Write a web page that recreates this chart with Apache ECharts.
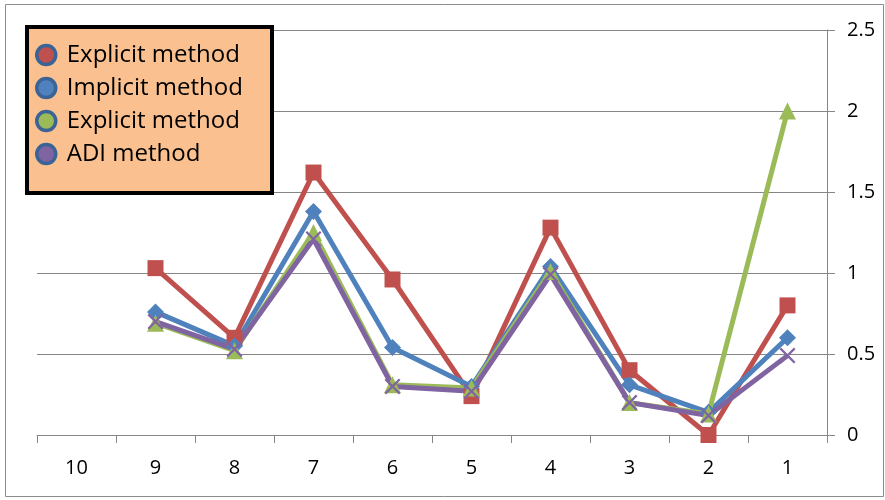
<!DOCTYPE html>
<html><head><meta charset="utf-8">
<script src="https://cdn.jsdelivr.net/npm/echarts@6/dist/echarts.min.js"></script>
<style>html,body{margin:0;padding:0;background:#fff}#c{width:885px;height:500px}</style>
</head><body><div id="c"></div>
<script>
const categories = ['10','9','8','7','6','5','4','3','2','1'];
const explicitA = [null, 1.03, 0.60, 1.62, 0.96, 0.24, 1.28, 0.40, 0.00, 0.80];
const implicit  = [null, 0.76, 0.55, 1.38, 0.54, 0.30, 1.04, 0.31, 0.14, 0.60];
const explicitB = [null, 0.69, 0.52, 1.25, 0.31, 0.29, 1.01, 0.20, 0.13, 2.00];
const adi       = [null, 0.70, 0.53, 1.21, 0.30, 0.27, 0.99, 0.20, 0.12, 0.49];
const seriesNames = ['Explicit method','Implicit method','Explicit method ','ADI method'];
const colors = ['#C0504D','#4F81BD','#9BBB59','#8064A2'];
const xPath = 'path://M0,1L1,0L5,4L9,0L10,1L6,5L10,9L9,10L5,6L1,10L0,9L4,5Z';
const symbols = ['rect','diamond','triangle',xPath];
const symSizes = [16,17,17,16];
const dataSets = [explicitA, implicit, explicitB, adi];
const font = 'Open Sans';

const chart = echarts.init(document.getElementById('c'), null, {renderer:'canvas'});
chart.setOption({
  animation:false,
  textStyle:{fontFamily:font},
  graphic:[
    {type:'rect', z:0, shape:{x:5.5,y:4.5,width:878,height:492}, style:{fill:'none',stroke:'#8c8c8c',lineWidth:1}},
    {type:'rect', z:5, shape:{x:29,y:29,width:245,height:166}, style:{fill:'#7f7f7f'}},
    {type:'rect', z:6, shape:{x:27,y:27,width:245,height:166}, style:{fill:'#FAC090',stroke:'#000',lineWidth:4}}
  ],
  grid:{left:37,right:58,top:30,bottom:65},
  legend:{
    z:10, left:35, top:43, padding:0, orient:'vertical', itemGap:9, itemWidth:19, itemHeight:19,
    icon:'circle',
    textStyle:{fontSize:24,color:'#000',fontFamily:font, padding:[0,0,0,6]},
    data: seriesNames.map((n,i)=>({name:n, itemStyle:{color:colors[i], borderColor:'#3B6396', borderWidth:3.5}}))
  },
  xAxis:{
    type:'category', data:categories, boundaryGap:true,
    axisLine:{lineStyle:{color:'#868686',width:1}},
    axisTick:{show:true, interval:0, length:8, lineStyle:{color:'#868686'}},
    axisLabel:{interval:0, fontSize:20, color:'#000', margin:23, fontFamily:font}
  },
  yAxis:{
    type:'value', position:'right', min:0, max:2.5, interval:0.5,
    axisLine:{show:true, lineStyle:{color:'#868686'}},
    axisTick:{show:true, length:8, lineStyle:{color:'#868686'}},
    splitLine:{show:true, lineStyle:{color:'#868686',width:1}},
    axisLabel:{fontSize:20, color:'#000', margin:20, fontFamily:font}
  },
  series: dataSets.map((d,i)=>({
    name:seriesNames[i], type:'line', data:d, symbol:symbols[i], symbolSize:symSizes[i],
    showSymbol:true, connectNulls:false,
    lineStyle:{color:colors[i], width:5},
    itemStyle:{color:colors[i]}
  }))
});
</script></body></html>
